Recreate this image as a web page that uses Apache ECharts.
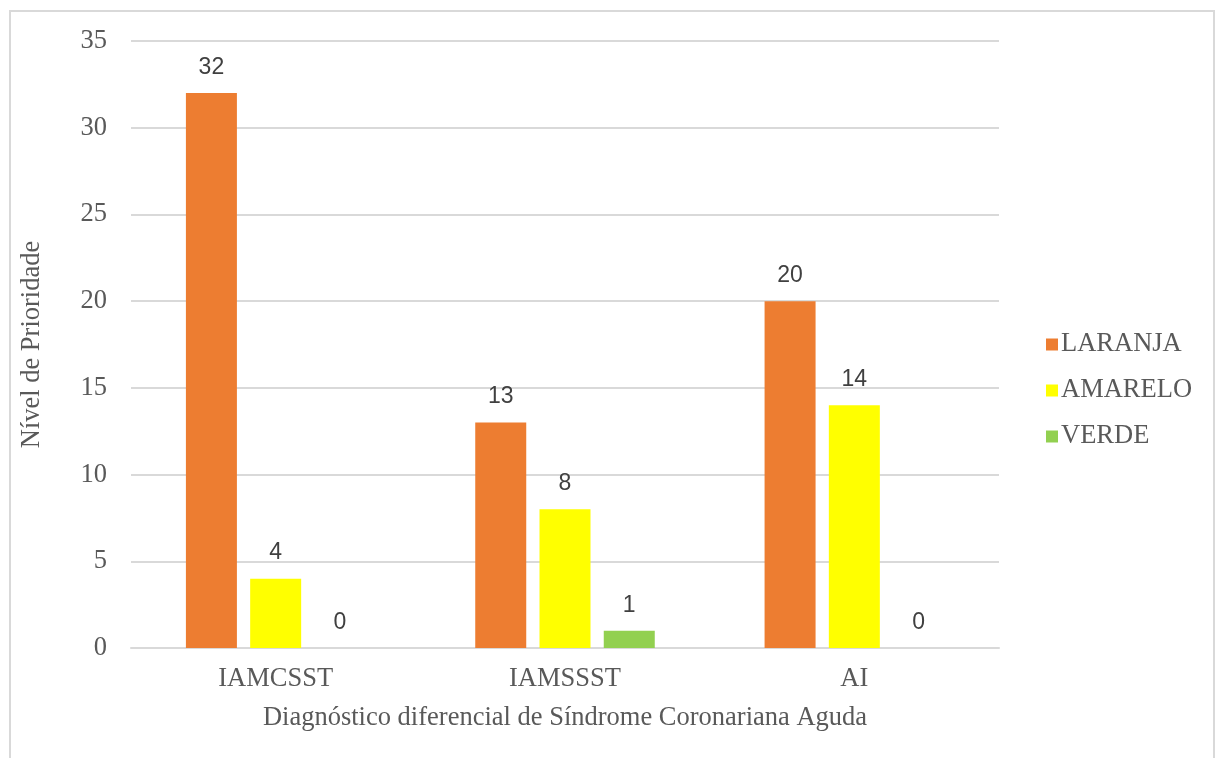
<!DOCTYPE html>
<html>
<head>
<meta charset="utf-8">
<script src="https://cdn.jsdelivr.net/npm/echarts@6/dist/echarts.min.js"></script>
<style>
html,body{margin:0;padding:0;background:#fff;}
#frame{position:absolute;left:9px;top:10px;width:1206px;height:760px;border:2px solid #d9d9d9;box-sizing:border-box;}
#chart{position:absolute;left:0;top:0;width:1219px;height:758px;}
</style>
</head>
<body>
<div id="frame"></div>
<div id="chart"></div>
<script>
const categories = ['IAMCSST', 'IAMSSST', 'AI'];
const laranja = [32, 13, 20];
const amarelo = [4, 8, 14];
const verde = [0, 1, 0];
const seriesNames = ['LARANJA', 'AMARELO', 'VERDE'];

const chart = echarts.init(document.getElementById('chart'), null, {renderer: 'canvas'});
const serif = '"Liberation Serif", "DejaVu Serif", serif';
const sans = '"Liberation Sans", "Open Sans", sans-serif';
const fs = 26.5;
const labelStyle = {show: true, position: 'top', distance: 14, color: '#404040', fontFamily: sans, fontSize: 23};
chart.setOption({
  backgroundColor: 'transparent',
  animation: false,
  grid: {left: 131, right: 220, top: 41, bottom: 110},
  legend: {
    orient: 'vertical',
    left: 1041,
    top: 326,
    itemWidth: 12,
    itemHeight: 12,
    itemGap: 19,
    icon: 'rect',
    textStyle: {fontFamily: serif, fontSize: fs, color: '#595959', padding: [0,0,0,-2]},
    data: seriesNames
  },
  xAxis: {
    type: 'category',
    data: categories,
    name: 'Diagnóstico diferencial de Síndrome Coronariana Aguda',
    nameLocation: 'middle',
    nameGap: 57,
    nameTextStyle: {fontFamily: serif, fontSize: fs, color: '#595959'},
    axisLine: {show: true, lineStyle: {color: '#d9d9d9', width: 2}},
    axisTick: {show: false},
    axisLabel: {fontFamily: serif, fontSize: fs, color: '#595959', margin: 18}
  },
  yAxis: {
    type: 'value',
    min: 0,
    max: 35,
    interval: 5,
    name: 'Nível de Prioridade',
    nameLocation: 'middle',
    nameGap: 85,
    nameRotate: 90,
    nameTextStyle: {fontFamily: serif, fontSize: fs, color: '#595959'},
    axisLine: {show: false},
    axisTick: {show: false},
    axisLabel: {fontFamily: serif, fontSize: fs, color: '#595959', margin: 24},
    splitLine: {lineStyle: {color: '#d9d9d9', width: 2}}
  },
  series: [
    {name: seriesNames[0], type: 'bar', data: laranja, itemStyle: {color: '#ED7D31'}, barWidth: 51, barGap: '26%', label: labelStyle},
    {name: seriesNames[1], type: 'bar', data: amarelo, itemStyle: {color: '#FFFF00'}, barWidth: 51, barGap: '26%', label: labelStyle},
    {name: seriesNames[2], type: 'bar', data: verde, itemStyle: {color: '#92D050'}, barWidth: 51, barGap: '26%', label: labelStyle}
  ]
});
</script>
</body>
</html>
